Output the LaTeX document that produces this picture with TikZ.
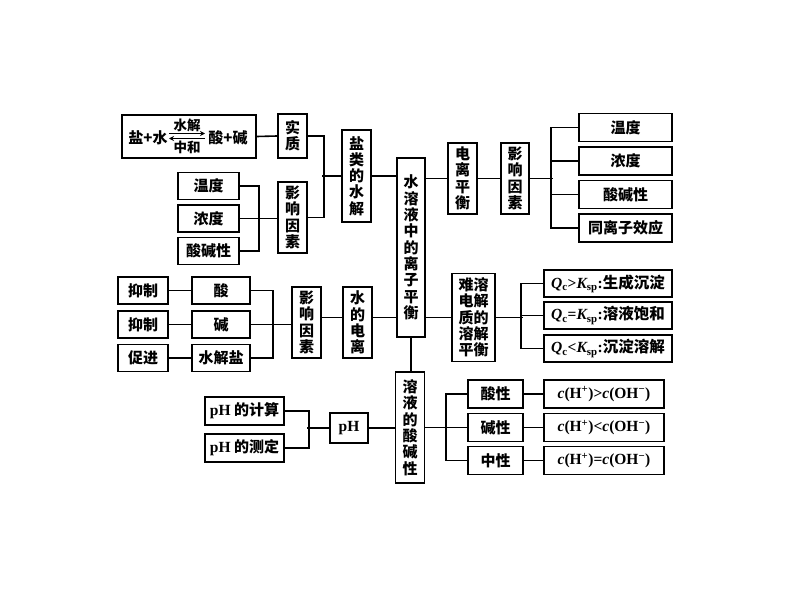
\documentclass[tikz,border=0pt]{standalone}
\usepackage{fontspec}
\setmainfont{Liberation Serif}
\newfontfamily\cj{Noto Sans CJK SC}
\newfontfamily\lt{Liberation Serif}
\usetikzlibrary{arrows.meta}
\newcommand{\Qc}{{\lt\bfseries\itshape Q}{\lt\bfseries\textsubscript{c}}}
\newcommand{\Ksp}{{\lt\bfseries\itshape K}{\lt\bfseries\textsubscript{sp}}}
\newcommand{\cH}{{\lt\bfseries\itshape c}{\lt\bfseries(H\textsuperscript{+})}}
\newcommand{\cOH}{{\lt\bfseries\itshape c}{\lt\bfseries(OH\textsuperscript{\textminus})}}
\begin{document}
\begin{tikzpicture}[x=1pt,y=-1pt,
  bx/.style={draw, line width=1.6pt, inner sep=0pt, align=center,
    font=\cj\bfseries\fontsize{15}{16.3}\selectfont},
  vb/.style={bx, minimum width=29pt},
  tx/.style={inner sep=0pt, font=\cj\bfseries\fontsize{15}{18}\selectfont},
  sm/.style={inner sep=0pt, font=\cj\bfseries\fontsize{13.5}{15}\selectfont},
  ln/.style={line width=1.6pt},
  ar/.style={line width=1.2pt, -{Stealth[length=5pt,width=5pt]}},
]
\useasboundingbox (0,0) rectangle (794,596);

% ---- salt hydrolysis branch ----
\node[bx, minimum width=134pt, minimum height=43pt] (rx) at (189,136.5) {};
\node[tx] (rl) at (148,137.5) {盐+水};
\node[tx] (rr) at (228,137.5) {酸+碱};
\coordinate (a1) at (169,133.5); \coordinate (a2) at (205,133.5);
\coordinate (b1) at (205,138.5); \coordinate (b2) at (169,138.5);
\draw[ar] (a1) -- (a2);
\draw[ar] (b1) -- (b2);
\node[sm] (sj) at (187,125) {水解};
\node[sm] (zh) at (187,147.5) {中和};

\node[vb, minimum height=44pt] (sz) at (292.5,136) {实\\质};
\node[vb, minimum height=71pt] (yx1) at (292.5,217.5) {影\\响\\因\\素};
\node[vb, minimum height=92pt] (yh) at (356.5,176) {盐\\类\\的\\水\\解};
\node[bx, minimum width=61pt, minimum height=27pt] (wd1) at (208.5,186) {温度};
\node[bx, minimum width=61pt, minimum height=27pt] (nd1) at (208.5,218.5) {浓度};
\node[bx, minimum width=61pt, minimum height=27pt] (sjx1) at (208.5,251) {酸碱性};

\draw[ln] (rx.east) -- (sz.west);
\draw[ln] (sz.east) -- ++(16,0) |- (yx1.east);
\draw[ln] (yh.west) -- ++(-19,0);
\draw[ln] (wd1.east) -- ++(19,0) |- (sjx1.east);
\draw[ln] (nd1.east) -- (nd1.east -| yx1.west);

% ---- main ----
\node[bx, minimum width=28pt, minimum height=179pt] (main) at (411,247.5)
  {水\\溶\\液\\中\\的\\离\\子\\平\\衡};
\draw[ln] (yh.east) -- (yh.east -| main.west);

% ---- ionization equilibrium ----
\node[vb, minimum height=71pt] (dlph) at (462.5,178.5) {电\\离\\平\\衡};
\node[vb, minimum width=28pt, minimum height=71pt] (yx2) at (515,178.5) {影\\响\\因\\素};
\node[bx, minimum width=93pt, minimum height=28pt] (wd2) at (625.5,127.5) {温度};
\node[bx, minimum width=93pt, minimum height=28pt] (nd2) at (625.5,161) {浓度};
\node[bx, minimum width=93pt, minimum height=28pt] (sjx2) at (625.5,194.5) {酸碱性};
\node[bx, minimum width=93pt, minimum height=28pt] (tlz) at (625.5,228) {同离子效应};
\draw[ln] (dlph.west -| main.east) -- (dlph.west);
\draw[ln] (dlph.east) -- (yx2.west);
\draw[ln] (yx2.east) -- ++(23,0);
\draw[ln] (wd2.west) -- ++(-27,0) |- (tlz.west);
\draw[ln] (nd2.west) -- ++(-27,0);
\draw[ln] (sjx2.west) -- ++(-27,0);

% ---- water ionization ----
\node[bx, minimum width=50pt, minimum height=27pt] (yz1) at (143,290.5) {抑制};
\node[bx, minimum width=50pt, minimum height=27pt] (yz2) at (143,324.5) {抑制};
\node[bx, minimum width=50pt, minimum height=27pt] (cj) at (143,358) {促进};
\node[bx, minimum width=58pt, minimum height=27pt] (s1) at (221,290.5) {酸};
\node[bx, minimum width=58pt, minimum height=27pt] (s2) at (221,324.5) {碱};
\node[bx, minimum width=58pt, minimum height=27pt] (s3) at (221,358) {水解盐};
\node[vb, minimum height=71pt] (yx3) at (306.5,322.5) {影\\响\\因\\素};
\node[vb, minimum height=71pt] (sdl) at (357.5,322.5) {水\\的\\电\\离};
\coordinate (h2) at (0,317.5);
\draw[ln] (yz1.east) -- (s1.west);
\draw[ln] (yz2.east) -- (s2.west);
\draw[ln] (cj.east) -- (s3.west);
\draw[ln] (s1.east) -- ++(22,0) |- (s3.east);
\draw[ln] (s2.east) -- (s2.east -| yx3.west);
\draw[ln] (yx3.east |- h2) -- (sdl.west |- h2);
\draw[ln] (sdl.east |- h2) -- (main.west |- h2);

% ---- precipitation equilibrium ----
\node[bx, minimum width=43pt, minimum height=88pt] (nr) at (473.5,317.5)
  {难溶\\电解\\质的\\溶解\\平衡};
\node[bx, minimum width=128pt, minimum height=27pt, font=\cj\bfseries\fontsize{15.5}{17}\selectfont] (q1) at (608,283.5) {\Qc{\lt\bfseries>}\Ksp{\lt\bfseries:}生成沉淀};
\node[bx, minimum width=128pt, minimum height=27pt, font=\cj\bfseries\fontsize{15.5}{17}\selectfont] (q2) at (608,315.5) {\Qc{\lt\bfseries=}\Ksp{\lt\bfseries:}溶液饱和};
\node[bx, minimum width=128pt, minimum height=27pt, font=\cj\bfseries\fontsize{15.5}{17}\selectfont] (q3) at (608,348.5) {\Qc{\lt\bfseries<}\Ksp{\lt\bfseries:}沉淀溶解};
\draw[ln] (main.east |- h2) -- (nr.west |- h2);
\draw[ln] (nr.east) -- ++(27,0);
\draw[ln] (q1.west) -- ++(-22,0) |- (q3.west);
\draw[ln] (q2.west) -- ++(-22,0);

% ---- acidity ----
\node[vb, minimum height=111pt] (ry) at (410,427.5) {溶\\液\\的\\酸\\碱\\性};
\draw[ln] (ry.north -| main.south) -- (main.south);
\node[bx, minimum width=79pt, minimum height=28pt] (p1) at (244.5,411) {{\lt\bfseries\fontsize{15.5}{17}\selectfont pH} 的计算};
\node[bx, minimum width=79pt, minimum height=28pt] (p2) at (244.5,448) {{\lt\bfseries\fontsize{15.5}{17}\selectfont pH} 的测定};
\node[bx, minimum width=38pt, minimum height=30pt, font=\lt\bfseries\fontsize{15.5}{18}\selectfont] (ph) at (349,428) {pH};
\draw[ln] (p1.east) -- ++(24,0) |- (p2.east);
\draw[ln] (ph.west) -- ++(-22,0);
\draw[ln] (ph.east) -- (ph.east -| ry.west);

\node[bx, minimum width=55pt, minimum height=28pt] (sx) at (495.5,394) {酸性};
\node[bx, minimum width=55pt, minimum height=28pt] (jx) at (495.5,427.5) {碱性};
\node[bx, minimum width=55pt, minimum height=28pt] (zx) at (495.5,460.5) {中性};
\node[bx, minimum width=120pt, minimum height=28pt, font=\lt\bfseries\fontsize{15.5}{17}\selectfont] (c1) at (604,394) {\cH>\cOH};
\node[bx, minimum width=120pt, minimum height=28pt, font=\lt\bfseries\fontsize{15.5}{17}\selectfont] (c2) at (604,427.5) {\cH<\cOH};
\node[bx, minimum width=120pt, minimum height=28pt, font=\lt\bfseries\fontsize{15.5}{17}\selectfont] (c3) at (604,460.5) {\cH=\cOH};
\draw[ln] (sx.west) -- ++(-21,0) |- (zx.west);
\draw[ln] (jx.west) -- (jx.west -| ry.east);
\draw[ln] (sx.east) -- (c1.west);
\draw[ln] (jx.east) -- (c2.west);
\draw[ln] (zx.east) -- (c3.west);
\end{tikzpicture}
\end{document}
